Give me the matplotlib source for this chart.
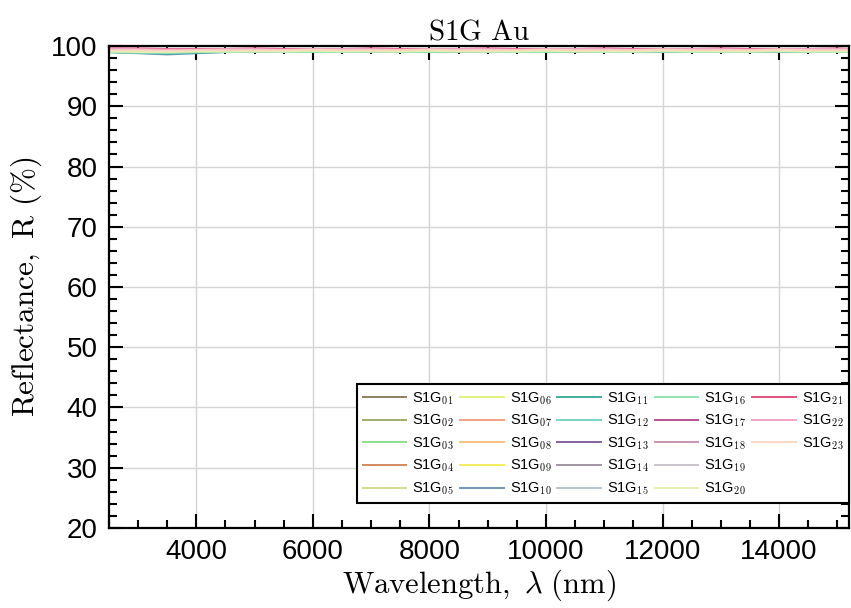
import matplotlib
matplotlib.use("Agg")
import matplotlib.pyplot as plt
from matplotlib.ticker import MultipleLocator
from matplotlib.lines import Line2D

plt.rcParams['font.family'] = ['Liberation Sans', 'DejaVu Sans']
plt.rcParams['mathtext.fontset'] = 'cm'

wavelength = [2500, 3000, 3500, 4000, 4500, 5000, 5500, 6000, 6500, 7000, 7500, 8000, 8500, 9000,
              9500, 10000, 10500, 11000, 11500, 12000, 12500, 13000, 13500, 14000, 14500, 15000, 15200]

series_names = ['01', '02', '03', '04', '05', '06', '07', '08', '09', '10', '11', '12',
                '13', '14', '15', '16', '17', '18', '19', '20', '21', '22', '23']

series_colors = ['#8c7f63', '#9fae6a', '#8fe08c', '#d4895c', '#d3d98f', '#e2f27e', '#f2a184',
                 '#f6c27f', '#f4ee5c', '#7595b8', '#3fae9d', '#74d6c3', '#84619d', '#a495a6',
                 '#b3c2cb', '#92e3b3', '#b5518f', '#c894b6', '#cbc3cb', '#e3f1b2', '#e4507e',
                 '#f3a3c3', '#f9d8c2']

s01 = [99.1, 99.0, 99.0, 99.1, 99.1, 99.2, 99.2, 99.2, 99.1, 99.2, 99.2, 99.2, 99.1, 99.2, 99.2, 99.2, 99.2, 99.1, 99.2, 99.2, 99.2, 99.1, 99.2, 99.2, 99.2, 99.2, 99.2]
s02 = [99.0, 98.9, 99.0, 99.0, 99.1, 99.1, 99.1, 99.1, 99.1, 99.1, 99.2, 99.1, 99.1, 99.1, 99.1, 99.2, 99.1, 99.1, 99.1, 99.1, 99.2, 99.1, 99.1, 99.1, 99.1, 99.1, 99.1]
s03 = [99.0, 98.9, 98.9, 99.0, 99.0, 99.0, 99.1, 99.0, 99.0, 99.0, 99.1, 99.0, 99.0, 99.0, 99.1, 99.0, 99.0, 99.1, 99.0, 99.0, 99.0, 99.1, 99.0, 99.0, 99.0, 99.1, 99.0]
s04 = [99.2, 99.1, 99.1, 99.2, 99.2, 99.3, 99.3, 99.3, 99.2, 99.3, 99.3, 99.3, 99.3, 99.2, 99.3, 99.3, 99.3, 99.3, 99.2, 99.3, 99.3, 99.3, 99.3, 99.3, 99.2, 99.3, 99.3]
s05 = [99.1, 99.0, 99.0, 99.1, 99.1, 99.1, 99.2, 99.1, 99.1, 99.1, 99.2, 99.1, 99.1, 99.2, 99.1, 99.1, 99.2, 99.1, 99.1, 99.2, 99.1, 99.1, 99.2, 99.1, 99.1, 99.2, 99.1]
s06 = [99.2, 99.1, 99.1, 99.2, 99.2, 99.2, 99.3, 99.2, 99.2, 99.2, 99.3, 99.2, 99.2, 99.1, 99.2, 99.2, 99.3, 99.2, 99.2, 99.2, 99.2, 99.3, 99.2, 99.2, 99.2, 99.2, 99.2]
s07 = [99.3, 99.2, 99.2, 99.3, 99.3, 99.3, 99.4, 99.3, 99.3, 99.3, 99.4, 99.3, 99.3, 99.3, 99.3, 99.4, 99.3, 99.3, 99.3, 99.3, 99.4, 99.3, 99.3, 99.3, 99.4, 99.3, 99.3]
s08 = [99.2, 99.1, 99.1, 99.2, 99.2, 99.3, 99.2, 99.2, 99.3, 99.2, 99.2, 99.3, 99.2, 99.2, 99.3, 99.2, 99.2, 99.3, 99.2, 99.2, 99.3, 99.2, 99.2, 99.3, 99.2, 99.2, 99.2]
s09 = [99.1, 99.0, 99.1, 99.1, 99.1, 99.2, 99.1, 99.1, 99.2, 99.1, 99.1, 99.2, 99.1, 99.0, 99.1, 99.2, 99.1, 99.1, 99.2, 99.1, 99.1, 99.2, 99.1, 99.1, 99.2, 99.1, 99.1]
s10 = [99.0, 98.8, 98.6, 98.8, 99.0, 99.1, 99.1, 99.1, 99.1, 99.1, 99.1, 99.1, 99.1, 99.1, 99.1, 99.1, 99.1, 99.1, 99.1, 99.1, 99.1, 99.1, 99.1, 99.1, 99.1, 99.1, 99.1]
s11 = [99.0, 98.9, 98.7, 98.9, 99.0, 99.1, 99.1, 99.1, 99.1, 99.0, 99.1, 99.1, 99.1, 99.1, 99.0, 99.1, 99.1, 99.1, 99.1, 99.1, 99.0, 99.1, 99.1, 99.1, 99.1, 99.1, 99.1]
s12 = [99.1, 99.0, 98.9, 99.0, 99.1, 99.1, 99.2, 99.1, 99.1, 99.1, 99.2, 99.1, 99.1, 99.1, 99.2, 99.1, 99.1, 99.1, 99.2, 99.1, 99.1, 99.1, 99.2, 99.1, 99.1, 99.1, 99.1]
s13 = [99.2, 99.1, 99.1, 99.2, 99.2, 99.2, 99.2, 99.3, 99.2, 99.2, 99.2, 99.3, 99.2, 99.2, 99.2, 99.3, 99.2, 99.2, 99.2, 99.3, 99.2, 99.2, 99.2, 99.3, 99.2, 99.2, 99.2]
s14 = [99.1, 99.0, 99.0, 99.1, 99.1, 99.2, 99.1, 99.1, 99.1, 99.2, 99.1, 99.1, 99.1, 99.2, 99.1, 99.1, 99.1, 99.2, 99.1, 99.1, 99.1, 99.2, 99.1, 99.1, 99.1, 99.2, 99.1]
s15 = [99.1, 99.0, 98.9, 99.0, 99.1, 99.1, 99.1, 99.1, 99.2, 99.1, 99.1, 99.1, 99.2, 99.1, 99.1, 99.1, 99.2, 99.1, 99.1, 99.1, 99.2, 99.1, 99.1, 99.1, 99.2, 99.1, 99.1]
s16 = [99.0, 98.9, 98.9, 99.0, 99.0, 99.1, 99.0, 99.0, 99.0, 99.1, 99.0, 99.0, 99.1, 99.0, 99.0, 99.0, 99.1, 99.0, 99.0, 99.1, 99.0, 99.0, 99.0, 99.1, 99.0, 99.0, 99.0]
s17 = [99.4, 99.3, 99.3, 99.4, 99.4, 99.4, 99.4, 99.5, 99.4, 99.4, 99.4, 99.4, 99.5, 99.4, 99.4, 99.4, 99.4, 99.5, 99.4, 99.4, 99.4, 99.4, 99.5, 99.4, 99.4, 99.4, 99.4]
s18 = [99.3, 99.3, 99.2, 99.3, 99.3, 99.4, 99.3, 99.3, 99.3, 99.4, 99.3, 99.3, 99.3, 99.4, 99.3, 99.3, 99.3, 99.4, 99.3, 99.3, 99.3, 99.4, 99.3, 99.3, 99.3, 99.3, 99.3]
s19 = [99.2, 99.1, 99.1, 99.2, 99.2, 99.2, 99.3, 99.2, 99.2, 99.2, 99.3, 99.2, 99.2, 99.2, 99.3, 99.2, 99.2, 99.2, 99.3, 99.2, 99.2, 99.2, 99.3, 99.2, 99.2, 99.2, 99.2]
s20 = [99.1, 99.0, 99.0, 99.1, 99.1, 99.1, 99.1, 99.2, 99.1, 99.1, 99.1, 99.2, 99.1, 99.1, 99.1, 99.2, 99.1, 99.1, 99.1, 99.2, 99.1, 99.1, 99.1, 99.2, 99.1, 99.1, 99.1]
s21 = [99.6, 99.6, 99.5, 99.5, 99.5, 99.6, 99.5, 99.5, 99.5, 99.6, 99.5, 99.5, 99.5, 99.6, 99.5, 99.5, 99.5, 99.6, 99.5, 99.5, 99.5, 99.6, 99.5, 99.5, 99.5, 99.6, 99.5]
s22 = [99.5, 99.5, 99.4, 99.4, 99.5, 99.5, 99.4, 99.5, 99.5, 99.5, 99.4, 99.5, 99.5, 99.5, 99.4, 99.5, 99.5, 99.5, 99.4, 99.5, 99.5, 99.5, 99.4, 99.5, 99.5, 99.5, 99.5]
s23 = [99.3, 99.3, 99.2, 99.3, 99.3, 99.3, 99.3, 99.4, 99.3, 99.3, 99.3, 99.4, 99.3, 99.3, 99.3, 99.4, 99.3, 99.3, 99.3, 99.4, 99.3, 99.3, 99.3, 99.4, 99.3, 99.3, 99.3]

series_values = [s01, s02, s03, s04, s05, s06, s07, s08, s09, s10, s11, s12,
                 s13, s14, s15, s16, s17, s18, s19, s20, s21, s22, s23]

fig = plt.figure(figsize=(8.51, 6.08), dpi=100)
ax = fig.add_axes([0.128, 0.1316, 0.8697, 0.7927])

handles, labels = [], []
for name, color, vals in zip(series_names, series_colors, series_values):
    h, = ax.plot(wavelength, vals, color=color, lw=1.4)
    handles.append(h)
    labels.append('S1G$_{\\mathsf{' + name + '}}$')
# two blank slots so the legend fills 5 rows x 5 columns like the original
for _ in range(2):
    handles.append(Line2D([], [], color='none'))
    labels.append(' ')

ax.set_xlim(2500, 15200)
ax.set_ylim(20, 100)
ax.xaxis.set_major_locator(MultipleLocator(2000))
ax.xaxis.set_minor_locator(MultipleLocator(500))
ax.yaxis.set_major_locator(MultipleLocator(10))
ax.yaxis.set_minor_locator(MultipleLocator(2))
ax.tick_params(which='both', direction='in', top=True, right=True, width=1.5)
ax.tick_params(which='major', length=10, labelsize=20, pad=8)
ax.tick_params(which='minor', length=6)
ax.grid(True, which='major', color='#d4d4d4', lw=1)
for sp in ax.spines.values():
    sp.set_linewidth(1.6)

ax.set_title(r'$\mathrm{S1G\ Au}$', fontsize=21, pad=5)
ax.set_xlabel(r'$\mathrm{Wavelength,}\ \lambda\ \mathrm{(nm)}$', fontsize=22, labelpad=2)
ax.set_ylabel(r'$\mathrm{Reflectance,\ R\ (\%)}$', fontsize=22.5, labelpad=5)

leg = ax.legend(handles, labels, ncol=5, loc='lower right', bbox_to_anchor=(1.0, 0.052), fontsize=10.5,
                frameon=True, fancybox=False, edgecolor='black', framealpha=1,
                handlelength=3.0, columnspacing=0.4, handletextpad=0.4,
                labelspacing=0.42, borderpad=0.4, borderaxespad=0)
leg.get_frame().set_linewidth(1.5)

fig.savefig('out.png', dpi=100)
